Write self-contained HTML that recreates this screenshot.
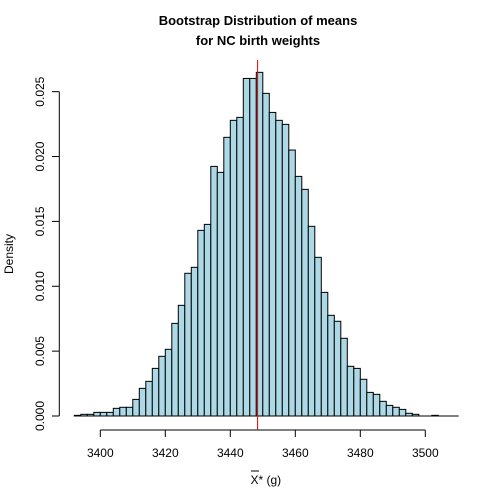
<!DOCTYPE html>
<html><head><meta charset="utf-8"><style>body{margin:0;background:#fff}svg{display:block}text{font-family:"Liberation Sans",Arial,sans-serif}</style></head>
<body>
<svg id="chart" width="504" height="504">
<text x="258" y="25" text-anchor="middle" font-size="13" font-weight="bold">Bootstrap Distribution of means</text>
<text x="258" y="45" text-anchor="middle" font-size="13" font-weight="bold">for NC birth weights</text>
<text transform="translate(13,254) rotate(-90)" text-anchor="middle" font-size="12">Density</text>
<g>
<text x="250.5" y="484" text-anchor="start" font-size="12">X* (g)</text>
<line x1="251" y1="471" x2="259" y2="471" stroke="#000" stroke-width="1"/>
</g>
<g id="bars"></g><g id="axes"></g>
</svg>
<script>
const binStart = 3392;
const binWidth = 2;
const densities = [0.00005,0.00013,0.00013,0.00028,0.00028,0.00028,0.00059,0.00067,0.00067,0.00128,0.00213,0.00267,0.00367,0.0046,0.00514,0.00714,0.00853,0.011,0.01146,0.01431,0.01477,0.01924,0.01878,0.02148,0.02279,0.02302,0.02602,0.02602,0.02649,0.02487,0.0234,0.02279,0.02248,0.0205,0.01847,0.01747,0.01462,0.01223,0.00953,0.00776,0.0073,0.00599,0.00383,0.00367,0.00283,0.00182,0.00167,0.00113,0.00082,0.00067,0.00051,0.00021,0.00013,0,0,0.00005];
const xTicks = [3400,3420,3440,3460,3480,3500];
const yTicks = [0,0.005,0.010,0.015,0.020,0.025];
const yTickLabels = ["0.000","0.005","0.010","0.015","0.020","0.025"];
const meanValue = 3448.4;

const xs = v => 100.3 + (v - 3400) * 3.25;
const ys = d => 416 - d * 12973;
const NS = "http://www.w3.org/2000/svg";
const bars = document.getElementById('bars'), axes = document.getElementById('axes');
function mk(tag, attrs, parent){const e=document.createElementNS(NS,tag);for(const k in attrs)e.setAttribute(k,attrs[k]);parent.appendChild(e);return e;}

densities.forEach((d,i)=>{
  const x0 = xs(binStart + i*binWidth), x1 = xs(binStart + (i+1)*binWidth);
  const r = mk('rect',{x:x0,y:ys(d),width:x1-x0,height:416-ys(d),fill:'#add8e6',stroke:'#000','stroke-width':1},bars);
  
  
});
const base = mk('line',{x1:xs(binStart),x2:458.7,y1:416,y2:416,stroke:'#000'},bars);



const xa = mk('line',{x1:xs(xTicks[0]),x2:xs(xTicks[xTicks.length-1]),y1:430,y2:430,stroke:'#000'},axes);


xTicks.forEach(t=>{
  mk('line',{x1:xs(t),x2:xs(t),y1:430,y2:437,stroke:'#000'},axes);
  const tx = mk('text',{x:xs(t),y:457,'text-anchor':'middle','font-size':12},axes);
  tx.textContent = t;
  
  
});
const ya = mk('line',{x1:59.3,x2:59.3,y1:ys(yTicks[0]),y2:ys(yTicks[yTicks.length-1]),stroke:'#000'},axes);


yTicks.forEach((t,i)=>{
  mk('line',{x1:52,x2:59.3,y1:ys(t),y2:ys(t),stroke:'#000'},axes);
  const tx = mk('text',{transform:`translate(44,${ys(t)}) rotate(-90)`,'text-anchor':'middle','font-size':12},axes);
  tx.textContent = yTickLabels[i];
  
  
});
const ml = mk('line',{x1:xs(meanValue),x2:xs(meanValue),y1:60,y2:430,stroke:'#e00000','stroke-width':1},axes);


</script>
</body></html>
